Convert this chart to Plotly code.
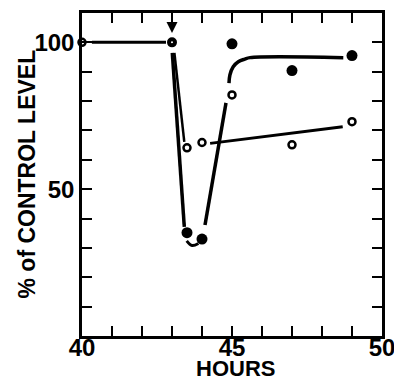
import plotly.graph_objects as go

# ---- data ----
hours_filled = [43.0, 43.5, 44.0, 45.0, 47.0, 49.0]
pct_filled = [100, 35.2, 33.0, 99.5, 90.4, 95.5]

hours_open = [40.0, 43.5, 44.0, 45.0, 47.0, 49.0]
pct_open = [100, 64.1, 65.9, 82.1, 65.1, 73.0]

# drawn (fitted) lines
ctrl_x = [40.33, 42.8]
ctrl_y = [100, 100]
drop_f_x = [43.01, 43.41]
drop_f_y = [96.4, 37.2]
drop_o_x = [43.08, 43.41]
drop_o_y = [96.4, 66.1]
arc_x = [43.49, 43.67, 43.88]
arc_y = [32.4, 30.8, 31.5]
rise_x = [44.1, 44.8]
rise_y = [37.8, 79.4]
rec_x = [44.9, 44.93, 45.04, 45.21, 45.43, 45.6, 48.71]
rec_y = [86.1, 88.9, 91.7, 93.4, 94.3, 94.8, 94.8]
open_fit_x = [44.27, 48.69]
open_fit_y = [65.6, 71.3]

x_ticks = list(range(40, 51))
x_ticktext = ["40", "", "", "", "", "45", "", "", "", "", "50"]
y_ticks = list(range(0, 111, 10))
y_ticktext = ["", "", "", "", "", "50", "", "", "", "", "100", ""]

FONT = "Liberation Sans"

fig = go.Figure()

def line(xs, ys, w=3, shape="linear"):
    fig.add_trace(go.Scatter(x=xs, y=ys, mode="lines",
                             line=dict(color="black", width=w, shape=shape),
                             hoverinfo="skip", showlegend=False, cliponaxis=False))

line(ctrl_x, ctrl_y, 3)
line(drop_f_x, drop_f_y, 3.5)
line(drop_o_x, drop_o_y, 2.5)
line(arc_x, arc_y, 3, "spline")
line(rise_x, rise_y, 3.5)
line(rec_x, rec_y, 3.5, "spline")
line(open_fit_x, open_fit_y, 3)

# open circles (control included)
fig.add_trace(go.Scatter(x=hours_open, y=pct_open, mode="markers",
                         marker=dict(symbol="circle", size=7, color="white",
                                     line=dict(color="black", width=2.5)),
                         showlegend=False, cliponaxis=False))
# filled circles
fig.add_trace(go.Scatter(x=hours_filled[1:], y=pct_filled[1:], mode="markers",
                         marker=dict(symbol="circle", size=11, color="black",
                                     line=dict(width=0)),
                         showlegend=False, cliponaxis=False))
# combined point at 43 h
fig.add_trace(go.Scatter(x=hours_filled[:1], y=pct_filled[:1], mode="markers",
                         marker=dict(symbol="circle", size=6, color="white",
                                     line=dict(color="black", width=4)),
                         showlegend=False, cliponaxis=False))

# arrow marking the treatment time
fig.add_annotation(x=43, y=103.2, ax=43, ay=109.3, xref="x", yref="y",
                   axref="x", ayref="y", text="", showarrow=True,
                   arrowhead=2, arrowsize=1.1, arrowwidth=2, arrowcolor="black")

axis_common = dict(showgrid=False, zeroline=False, showline=True, linecolor="black",
                   linewidth=2.5, mirror="ticks", ticks="inside", ticklen=10,
                   tickwidth=2, tickcolor="black", automargin=False,
                   ticklabeloverflow="allow",
                   tickfont=dict(family=FONT, size=24, color="black", weight="bold"))

fig.update_xaxes(range=[40, 50], tickvals=x_ticks, ticktext=x_ticktext,
                 ticklabelstandoff=-12, **axis_common)
fig.update_yaxes(range=[0, 110], tickvals=y_ticks, ticktext=y_ticktext, **axis_common)

fig.add_annotation(text="HOURS", xref="paper", yref="paper", x=(235 - 82) / 300,
                   y=-(368 - 336) / 323, showarrow=False, xanchor="center", yanchor="middle",
                   font=dict(family=FONT, size=22, color="black", weight="bold"))
fig.add_annotation(text="% of CONTROL LEVEL", xref="paper", yref="paper",
                   x=(26 - 82) / 300, y=0.5, textangle=-90, showarrow=False,
                   xanchor="center", yanchor="middle",
                   font=dict(family=FONT, size=23, color="black", weight="bold"))

fig.update_layout(width=394, height=382, margin=dict(l=82, r=12, t=13, b=46),
                  paper_bgcolor="white", plot_bgcolor="white")

fig.write_html("out.html", config={"displayModeBar": False},
               post_script="document.body.style.margin='0';document.body.style.overflow='hidden';")
